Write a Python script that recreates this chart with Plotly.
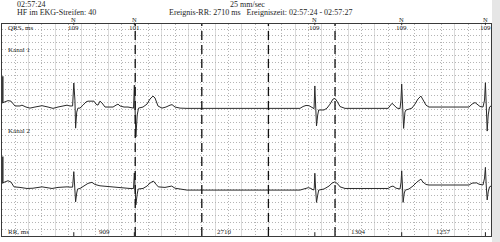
import plotly.graph_objects as go

# ---------------- data ----------------
beat_labels = ["N", "N", "N", "N", "N"]
qrs_ms = [109, 101, 109, 109, 109]
rr_ms = [909, 2710, 1304, 1257]
first_beat_s = 1.078
second_marks_s = [2, 3, 4, 5]
calib_mv = 1.0

header_time = "02:57:24"
header_hr = "HF im EKG-Streifen: 40"
header_speed = "25 mm/sec"
header_event = "Ereignis-RR: 2710 ms   Ereigniszeit: 02:57:24 - 02:57:27"

ch1_t = [0, 0.045, 0.090, 0.135, 0.195, 0.270, 0.300, 0.360, 0.420, 0.495, 0.601, 0.691, 0.766,
         0.841, 0.916, 0.976, 1.021, 1.060, 1.078, 1.095, 1.105, 1.122, 1.140, 1.171, 1.216,
         1.261, 1.291, 1.336, 1.381, 1.411, 1.441, 1.471, 1.502, 1.547, 1.622, 1.667, 1.712,
         1.742, 1.772, 1.832, 1.892, 1.952, 1.975, 1.987, 2.000, 2.010, 2.030, 2.050, 2.117,
         2.177, 2.222, 2.267, 2.297, 2.342, 2.402, 2.462, 2.523, 2.553, 2.598, 2.673, 2.778,
         4.474, 4.520, 4.565, 4.610, 4.655, 4.685, 4.697, 4.712, 4.722, 4.740, 4.755, 4.835,
         4.880, 4.925, 4.970, 5.000, 5.030, 5.075, 5.150, 5.796, 5.826, 5.856, 5.886, 5.931,
         5.976, 5.990, 6.001, 6.012, 6.030, 6.050, 6.065, 6.110, 6.155, 6.200, 6.245, 6.290,
         6.320, 6.366, 6.411, 6.561, 6.862, 7.012, 7.057, 7.102, 7.132, 7.177, 7.222, 7.245,
         7.258, 7.270, 7.285, 7.300, 7.320, 7.342]
ch1_mv = [0.20, 0.24, 0.29, 0.27, 0.09, 0.09, 0.12, 0.05, 0.01, 0.05, 0.10, 0.05, 0.00,
          0.05, 0.09, 0.12, 0.09, 0.09, 0.95, 0.31, -0.74, -0.14, 0.01, 0.01, 0.12,
          0.24, 0.27, 0.27, 0.27, 0.16, 0.12, 0.27, 0.20, 0.05, 0.05, 0.05, 0.12,
          0.16, 0.09, 0.05, 0.05, 0.01, 0.01, 0.87, -0.06, -1.07, -0.25, 0.01, 0.05,
          0.16, 0.35, 0.46, 0.39, 0.09, 0.01, 0.05, 0.12, 0.14, 0.05, 0.01, 0.00,
          0.00, 0.07, 0.11, 0.10, 0.05, -0.01, 0.84, -0.06, -0.66, -0.25, -0.06, -0.06,
          0.01, 0.16, 0.35, 0.37, 0.27, 0.07, 0.00, 0.00, 0.12, 0.19, 0.12, 0.01,
          -0.01, 0.31, 0.91, 0.31, -0.75, -0.14, -0.06, -0.03, 0.01, 0.16, 0.35, 0.46,
          0.31, 0.12, 0.05, 0.05, 0.05, 0.05, 0.16, 0.22, 0.16, 0.07, 0.05, 0.31,
          0.96, 0.12, -0.85, -0.25, 0.05, 0.09]

ch2_t = [0, 0.045, 0.090, 0.135, 0.180, 0.270, 0.375, 0.465, 0.541, 0.601, 0.676, 0.751, 0.841,
         0.916, 0.976, 1.021, 1.060, 1.078, 1.092, 1.105, 1.122, 1.135, 1.171, 1.231, 1.291,
         1.351, 1.396, 1.471, 1.622, 1.772, 1.922, 1.975, 1.987, 2.000, 2.010, 2.030, 2.045,
         2.117, 2.177, 2.222, 2.272, 2.312, 2.347, 2.447, 2.548, 2.598, 2.673, 2.778,
         4.474, 4.535, 4.600, 4.640, 4.675, 4.688, 4.697, 4.710, 4.722, 4.740, 4.755, 4.835,
         4.910, 4.955, 5.000, 5.045, 5.075, 5.150, 5.796, 5.841, 5.871, 5.916, 5.976, 5.992,
         6.001, 6.012, 6.022, 6.040, 6.055, 6.110, 6.170, 6.230, 6.290, 6.320, 6.366, 6.411,
         7.012, 7.057, 7.127, 7.162, 7.222, 7.245, 7.258, 7.270, 7.285, 7.300, 7.320, 7.342]
ch2_mv = [0.26, 0.30, 0.35, 0.30, 0.12, 0.10, 0.06, 0.07, 0.11, 0.12, 0.09, 0.06, 0.10,
          0.12, 0.12, 0.11, 0.11, 0.69, 0.19, -0.44, -0.11, 0.04, 0.06, 0.15, 0.25,
          0.29, 0.21, 0.16, 0.12, 0.09, 0.06, 0.06, 0.64, 0.00, -0.56, -0.15, 0.04,
          0.06, 0.15, 0.26, 0.34, 0.22, 0.12, 0.10, 0.15, 0.07, 0.03, 0.00,
          0.00, 0.04, 0.09, 0.06, 0.00, 0.07, 0.63, 0.00, -0.46, -0.19, 0.00, 0.04,
          0.15, 0.26, 0.31, 0.22, 0.12, 0.06, 0.06, 0.13, 0.15, 0.07, 0.04, 0.30,
          0.72, 0.19, -0.46, -0.11, 0.00, 0.04, 0.15, 0.30, 0.41, 0.30, 0.21, 0.19,
          0.19, 0.26, 0.27, 0.22, 0.19, 0.45, 0.85, 0.19, -0.37, -0.07, 0.12, 0.15]

# ---------------- layout constants ----------------
X_MAX = 7.342
Y_MAX = 7.94
CH1_OFF = 4.78
CH2_OFF = 1.72
INK = "#1e1e1e"
SERIF = "Liberation Serif"

beat_t = [first_beat_s]
for rr in rr_ms:
    beat_t.append(beat_t[-1] + rr / 1000.0)
rr_mid = [(beat_t[i] + beat_t[i + 1]) / 2 for i in range(len(rr_ms))]

fig = go.Figure()
fig.add_trace(go.Scatter(x=ch1_t, y=[v + CH1_OFF for v in ch1_mv], mode="lines",
                         line=dict(color="#2a2a2a", width=1), hoverinfo="skip"))
fig.add_trace(go.Scatter(x=ch2_t, y=[v + CH2_OFF for v in ch2_mv], mode="lines",
                         line=dict(color="#2a2a2a", width=1), hoverinfo="skip"))

shapes = []
# right grey strip
shapes.append(dict(type="rect", xref="paper", yref="paper", x0=1.002, x1=1.03, y0=-0.05, y1=1.2,
                   fillcolor="#e6e6e6", line=dict(width=0), layer="below"))
# one-second markers
for s in second_marks_s:
    shapes.append(dict(type="line", xref="x", yref="paper", x0=s, x1=s, y0=0, y1=1,
                       line=dict(color="#111", width=1.3, dash="9px,5px")))
# calibration pulses
for off, start in [(CH1_OFF, ch1_mv[0]), (CH2_OFF, ch2_mv[0])]:
    shapes.append(dict(type="line", xref="x", yref="y", x0=0.012, x1=0.012,
                       y0=off + start, y1=off + start + calib_mv,
                       line=dict(color="#333", width=1.5)))
# beat ticks top & bottom
for bt in beat_t:
    shapes.append(dict(type="line", xref="x", yref="paper", x0=bt, x1=bt, y0=0.996, y1=1.006,
                       line=dict(color=INK, width=1)))
    shapes.append(dict(type="line", xref="x", yref="paper", x0=bt, x1=bt, y0=0, y1=0.018,
                       line=dict(color=INK, width=1)))

ann = []
def txt(x, y, s, xref="paper", anchor="left", size=8):
    ann.append(dict(x=x, y=y, xref=xref, yref="paper", text=s, showarrow=False,
                    xanchor=anchor, yanchor="middle", font=dict(family=SERIF, size=size, color=INK)))

txt(0.027, 1.093, header_time)
txt(0.027, 1.055, header_hr)
txt(0.503, 1.093, header_speed, anchor="center")
txt(0.338, 1.055, header_event)
txt(0.008, 0.979, "QRS, ms", size=7)
txt(0.008, 0.877, "Kanal 1", size=7)
txt(0.008, 0.495, "Kanal 2", size=7)
txt(0.008, 0.017, "RR, ms", size=7)
for bt, lab, q in zip(beat_t, beat_labels, qrs_ms):
    txt(bt, 1.019, lab, xref="x", anchor="center", size=6.5)
    txt(bt, 0.981, str(q), xref="x", anchor="center", size=7)
for m, rr in zip(rr_mid, rr_ms):
    txt(m, 0.017, str(rr), xref="x", anchor="center", size=7)

fig.update_layout(
    width=500, height=242,
    margin=dict(l=2, r=9, t=24, b=6),
    paper_bgcolor="white", plot_bgcolor="white",
    showlegend=False,
    shapes=shapes, annotations=ann,
    xaxis=dict(range=[0, X_MAX], showticklabels=False, ticks="", zeroline=False,
               tick0=0, dtick=0.4, showgrid=True, gridcolor="#dadada", gridwidth=1,
               minor=dict(dtick=0.2, showgrid=True, gridcolor="#b4b4b4", griddash="1px,2px"),
               showline=True, mirror=True, linecolor="#3a3a3a", linewidth=1),
    yaxis=dict(range=[0, Y_MAX], showticklabels=False, ticks="", zeroline=False,
               tick0=0, dtick=0.25, showgrid=True, gridcolor="#b4b4b4", griddash="1px,2px",
               showline=True, mirror=True, linecolor="#3a3a3a", linewidth=1),
)

fig.write_html("out.html")
